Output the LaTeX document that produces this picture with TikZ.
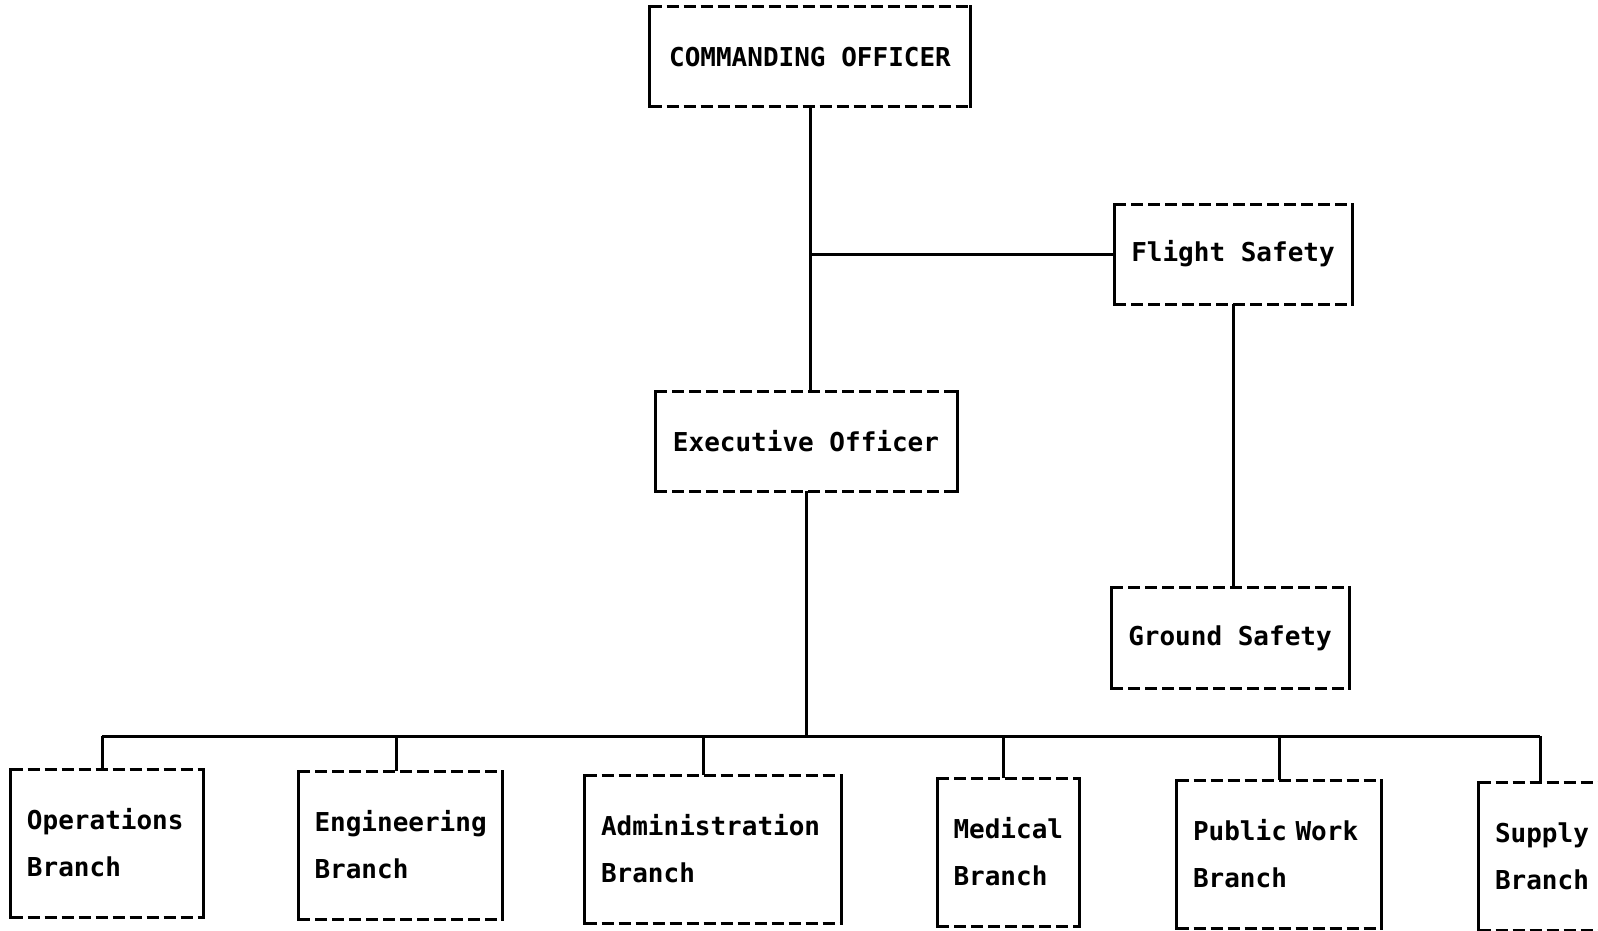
\documentclass[tikz,border=0pt]{standalone}
\usepackage{fontspec}
\setmonofont{DejaVu Sans Mono}
\usetikzlibrary{calc}

\begin{document}
\begin{tikzpicture}[x=1pt, y=-1pt, line width=3pt,
        dashrule/.style={dash pattern=on 12pt off 5pt},
        office/.style={font=\ttfamily\bfseries\fontsize{26}{47}\selectfont, inner sep=0pt, minimum height=97pt,
            append after command={
                (\tikzlastnode.north west) edge[dashrule] (\tikzlastnode.north east)
                (\tikzlastnode.south west) edge[dashrule] (\tikzlastnode.south east)
                (\tikzlastnode.north west) edge[line cap=rect] (\tikzlastnode.south west)
                (\tikzlastnode.north east) edge[line cap=rect] (\tikzlastnode.south east)}},
        branch/.style={office, minimum height=145pt, align=left, inner xsep=15pt}]
        % Parameters
        \def\busy{736} % level of the branch line

        \useasboundingbox (0,0) rectangle (1598,931);

        % Command
        \node[office, minimum width=318pt] (co) at (810,57) {COMMANDING OFFICER};
        \node[office, minimum width=235pt] (fs) at (1233,254) {Flight Safety};
        \node[office, minimum width=299pt] (xo) at (806,441) {Executive Officer};
        \node[office, minimum width=235pt, minimum height=98pt] (gs) at (1230,638) {Ground Safety};

        % Branches
        \node[branch, text width=160pt] (ops) at (107,843) {Operations\\Branch};
        \node[branch, text width=171pt] (eng) at (400,845) {Engineering\\Branch};
        \node[branch, text width=224pt] (adm) at (713,849) {Administration\\Branch};
        \node[branch, text width=109pt] (med) at (1008,852) {Medical\\Branch};
        \node[branch, text width=172pt] (pub) at (1279,854) {Public Work\\Branch};
        \node[branch, text width=110pt] (sup) at (1550,856) {Supply\\Branch};

        % Coordinates
        \foreach \name/\x in {ops/102, eng/396, adm/703, med/1003, pub/1279, sup/1540}
            \coordinate (j-\name) at (\x,\busy);

        % Lines
        \draw (co.south) -- (co.south |- xo.north);
        \draw (co.south |- fs.west) -- (fs.west);
        \draw (fs.south) -- (fs.south |- gs.north);
        \draw (xo.south) -- (xo.south |- j-ops);
        \draw (j-ops) -- (j-sup);
        \foreach \name in {ops, eng, adm, med, pub, sup}
            \draw (j-\name) -- (j-\name |- \name.north);

    \end{tikzpicture}
\end{document}
